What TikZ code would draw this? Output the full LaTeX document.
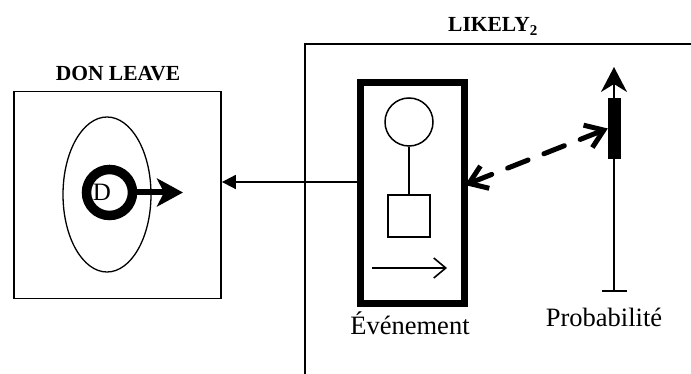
\documentclass[tikz,border=0pt]{standalone}
\usepackage{fontspec}
\setmainfont{Liberation Serif}
\usetikzlibrary{arrows.meta, shapes.geometric}
\tikzset{%
  % Specifications for style of nodes:
    base/.style = {draw=black, inner sep=0pt, line width=1.5pt},
    frameBox/.style = {base, rectangle, line width=1.8pt},
    eventBox/.style = {base, rectangle, line width=7pt},
    cloud/.style = {base, ellipse, line width=1.3pt},
    ring/.style = {base, circle, line width=9.5pt},
    slider/.style = {rectangle, fill=black, inner sep=0pt},
    title/.style = {font=\bfseries\fontsize{21.5}{24}\selectfont, anchor=base},
    caption/.style = {font=\fontsize{26.5}{30}\selectfont, anchor=base},
  % Specifications for style of lines:
    link/.style = {line width=1.8pt, -{Triangle[length=14pt,width=14pt]}},
    push/.style = {line width=6pt, -{Stealth[length=26pt,width=28pt,inset=7pt]}},
    timeArrow/.style = {line width=1.6pt, -{Straight Barb[length=12pt,width=20pt]}},
    axis/.style = {line width=1.7pt, -{Stealth[length=25pt,width=26pt,inset=8pt]}},
    influence/.style = {line width=5pt, dash pattern=on 22pt off 17pt, line cap=round,
                        {Straight Barb[length=17pt,width=24pt]}-{Straight Barb[length=17pt,width=24pt]}},
}

\begin{document}
\begin{tikzpicture}[x=1pt, y=-1pt]
  \useasboundingbox (0,0) rectangle (691,374);

  % Left part
  \node (donLeave)   [frameBox, minimum width=207pt, minimum height=207pt] at (117.5,195) {};
  \node (donTitle)   [title] at (118,81) {DON LEAVE};
  \node (cloud)      [cloud, minimum width=88pt, minimum height=155pt] at (107,194.5) {};
  \node (dRing)      [ring, minimum size=46pt] at (109.5,192.5) {};
  \node (dLabel)     [font=\fontsize{25}{28}\selectfont] at (102,192) {D};
  \coordinate (dTip) at (183,192.5);

  % Right part
  \coordinate (likelyCorner) at (305,44);
  \node (likelyTitle) [title] at (493,32) {LIKELY\textsubscript{2}};
  \node (event)      [eventBox, minimum width=104pt, minimum height=221pt] at (412.5,193) {};
  \node (eventCircle) [base, circle, minimum size=48pt] at (409,122) {};
  \node (eventSquare) [base, rectangle, minimum size=42pt] at (409,216) {};
  \coordinate (timeStart) at (372,268);
  \coordinate (timeEnd)   at (447,268);
  \node (eventText)  [caption] at (410,334) {Événement};

  \coordinate (axisBottom) at (614,291);
  \coordinate (axisTop)    at (614,67);
  \coordinate (tickLeft)   at (602,291);
  \coordinate (tickRight)  at (627,291);
  \node (slider)     [slider, minimum width=13pt, minimum height=61pt] at (614.5,128.5) {};
  \node (probText)   [caption] at (604,326) {Probabilité};

  \coordinate (linkY) at (0,182);
  \coordinate (dashY) at (0,185);

  % Specification of lines between nodes
  \draw[line width=1.8pt]   (likelyCorner |- 0,374) |- (691,44);
  \draw[push]               (dRing.east) -- (dTip);
  \draw[base]               (eventCircle) -- (eventSquare);
  \draw[timeArrow]          (timeStart) -- (timeEnd);
  \draw[link]               (event.west |- linkY) -- (donLeave.east |- linkY);
  \draw[axis]               (axisBottom) -- (axisTop);
  \draw[line width=1.7pt]   (tickLeft) -- (tickRight);
  \draw[influence]          ([xshift=-3pt]event.east |- dashY) -- (slider.west);
\end{tikzpicture}
\end{document}
